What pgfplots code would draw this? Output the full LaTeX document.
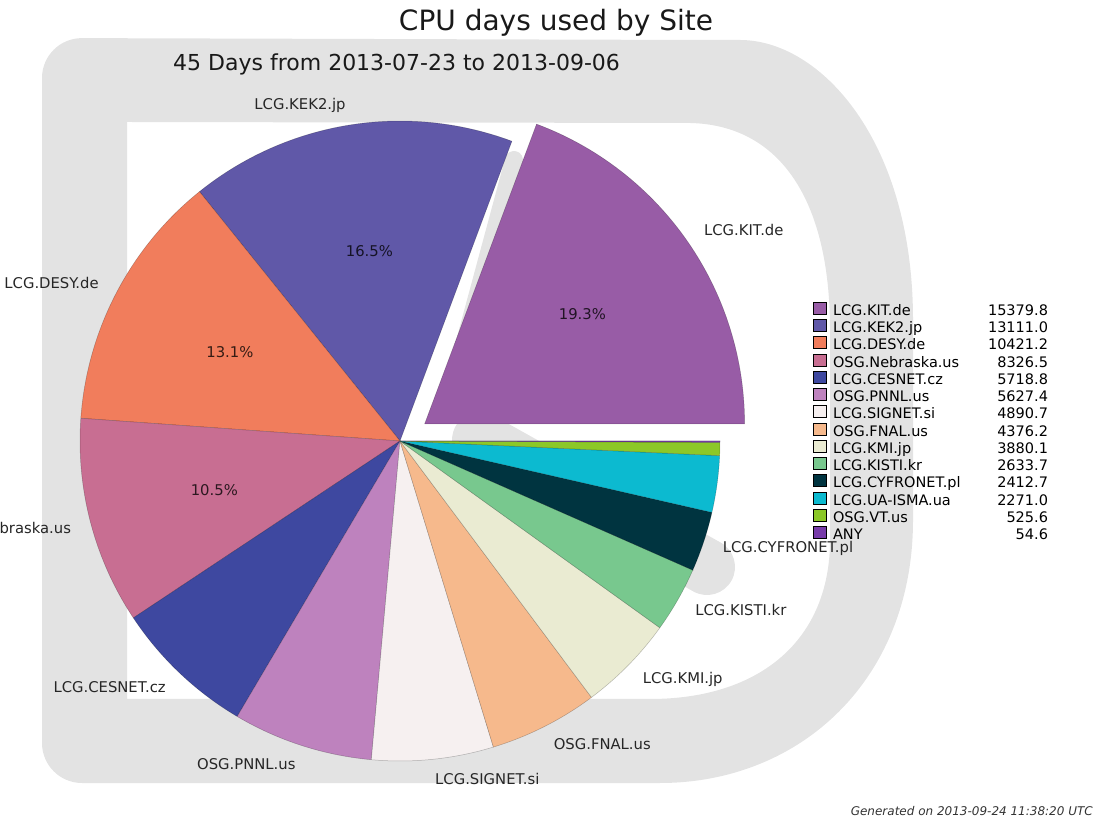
\documentclass[border=0pt]{standalone}
\usepackage{pgfplots}
\pgfplotsset{compat=1.18}
\usepackage{pgfplotstable}
\usepackage{fontspec}
\setmainfont{DejaVu Sans}

\definecolor{wm}{RGB}{227,227,227}
\definecolor{wc0}{RGB}{152,92,166}
\definecolor{wc1}{RGB}{96,88,168}
\definecolor{wc2}{RGB}{241,125,92}
\definecolor{wc3}{RGB}{200,110,146}
\definecolor{wc4}{RGB}{62,72,160}
\definecolor{wc5}{RGB}{190,130,190}
\definecolor{wc6}{RGB}{246,240,240}
\definecolor{wc7}{RGB}{246,185,140}
\definecolor{wc8}{RGB}{234,235,210}
\definecolor{wc9}{RGB}{120,200,142}
\definecolor{wc10}{RGB}{0,52,64}
\definecolor{wc11}{RGB}{12,186,208}
\definecolor{wc12}{RGB}{140,200,40}
\definecolor{wc13}{RGB}{120,60,170}

\pgfplotstableread{
name value
LCG.KIT.de 15379.8
LCG.KEK2.jp 13111.0
LCG.DESY.de 10421.2
OSG.Nebraska.us 8326.5
LCG.CESNET.cz 5718.8
OSG.PNNL.us 5627.4
LCG.SIGNET.si 4890.7
OSG.FNAL.us 4376.2
LCG.KMI.jp 3880.1
LCG.KISTI.kr 2633.7
LCG.CYFRONET.pl 2412.7
LCG.UA-ISMA.ua 2271.0
OSG.VT.us 525.6
ANY 54.6
}\sites

\def\R{320}
\def\PX{400}
\def\PY{378}

\begin{document}
\begin{tikzpicture}
% background watermark
\begin{scope}[shift={(0,819pt)}, yscale=-1, x=1pt, y=1pt]
\fill[wm, even odd rule]
  [rounded corners=40pt] (660,783) -- (42,783) -- (42,38) -- (700,40) [sharp corners]
  .. controls (820,40) and (913,140) .. (913,320) -- (913,520)
  .. controls (913,680) and (800,783) .. (660,783) -- cycle
  (127,122) -- (127,699) -- (650,699) .. controls (760,699) and (830,640) .. (830,540)
  -- (830,330) .. controls (830,200) and (780,125) .. (690,123) -- cycle;
\draw[wm, line width=18pt, line cap=round] (514,160) -- (448,405);
\draw[wm, line width=56pt, line cap=round] (480,440) -- (707,567);
\end{scope}

\begin{axis}[
  x=1pt, y=1pt, xmin=0, xmax=1097, ymin=0, ymax=819,
  scale only axis, hide axis, at={(0,0)}, anchor=south west, clip=false,
  /pgf/number format/assume math mode=true,
  legend style={at={(axis cs:813,517)}, anchor=north west, draw=none, fill=none,
    inner sep=0pt, outer sep=0pt, row sep=-0.7pt, column sep=7pt,
    font=\fontsize{14.5}{17}\selectfont,
    nodes={inner sep=0pt, outer sep=0pt, text height=10.8pt, text depth=4.6pt}},
  legend cell align=left,
  legend image code/.code={\draw[#1, draw=black, draw opacity=1, line width=0.5pt] (0pt,-2pt) rectangle (12.5pt,10pt);},
]
\def\total{0}
\pgfplotsforeachungrouped \i in {0,...,13}{%
  \pgfplotstablegetelem{\i}{value}\of\sites
  \pgfmathsetmacro\total{\total+\pgfplotsretval/1000}%
}
\def\cum{0}
\pgfplotsforeachungrouped \i in {0,...,13}{%
  \pgfplotstablegetelem{\i}{value}\of\sites
  \let\v\pgfplotsretval
  \pgfplotstablegetelem{\i}{name}\of\sites
  \let\nm\pgfplotsretval
  \pgfmathsetmacro\A{\cum}%
  \pgfmathsetmacro\B{\cum+360*(\v/1000)/\total}%
  \pgfmathsetmacro\pct{100*(\v/1000)/\total}%
  \let\cum\B
  \pgfmathsetmacro\Am{\A-1}%
  \pgfmathsetmacro\Ai{\A+(\B-\A)/60}%
  \pgfmathsetmacro\Bp{\B+1}%
  \pgfmathsetmacro\mid{(\A+\B)/2}%
  \ifnum\i=0 \def\ex{30}\else\def\ex{0}\fi
  \pgfmathsetmacro\cx{\PX+\ex*cos(\mid)}%
  \pgfmathsetmacro\cy{\PY+\ex*sin(\mid)}%
  \pgfmathsetmacro\lx{\cx+340*cos(\mid)}%
  \pgfmathsetmacro\ly{\cy+340*sin(\mid)}%
  \pgfmathsetmacro\px{\cx+192*cos(\mid)}%
  \pgfmathsetmacro\py{\cy+192*sin(\mid)}%
  \pgfmathsetmacro\cm{cos(\mid)}%
  \ifdim\cm pt>0pt \def\anc{west}\else\def\anc{east}\fi
  \edef\doplot{\noexpand\addplot[fill=wc\i, draw=black, draw opacity=0.25, line width=0.5pt,
     variable=\noexpand\t, samples at={\Am,\A,\Ai,...,\B,\B,\Bp}]
     ({((\noexpand\t<\A) || (\noexpand\t>\B)) ? \cx : \cx+\R*cos(\noexpand\t)},
      {((\noexpand\t<\A) || (\noexpand\t>\B)) ? \cy : \cy+\R*sin(\noexpand\t)});
     \noexpand\addlegendentry{\noexpand\makebox[215pt][l]{\nm\noexpand\hfill\v}}
  }%
  \doplot
  \ifdim\pct pt>2.95pt
    \edef\dolab{\noexpand\node[anchor=\anc, inner sep=0pt, font=\noexpand\fontsize{14.8}{17}\noexpand\selectfont, text=black!85]
       at (axis cs:\lx,\ly) {\nm};}%
    \dolab
  \fi
  \ifdim\pct pt>9.95pt
    \edef\dopct{\noexpand\node[inner sep=0pt, font=\noexpand\fontsize{14.8}{17}\noexpand\selectfont, text=wc\i!22!black]
       at (axis cs:\px,\py) {\noexpand\pgfmathprintnumber[fixed,precision=1,fixed zerofill]{\pct}\noexpand\%};}%
    \dopct
  \fi
}
\end{axis}

\node[anchor=base, font=\fontsize{28}{34}\selectfont, text=black!90] at (556pt,788pt) {CPU days used by Site};
\node[anchor=base west, inner sep=0pt, font=\fontsize{22}{26}\selectfont, text=black!90] at (173pt,748pt) {45 Days from 2013-07-23 to 2013-09-06};
\node[anchor=base east, inner sep=0pt, font=\itshape\fontsize{12}{14}\selectfont, text=black!80] at (1093pt,4pt) {Generated on 2013-09-24 11:38:20 UTC};

\pgfresetboundingbox
\useasboundingbox (0,0) rectangle (1097pt,819pt);
\end{tikzpicture}
\end{document}
